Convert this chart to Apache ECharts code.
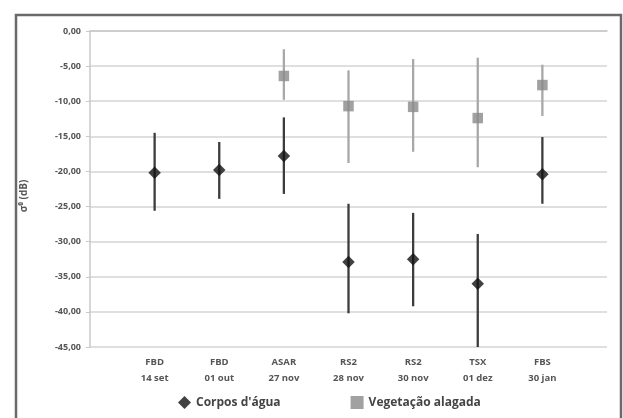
<!DOCTYPE html>
<html>
<head>
<meta charset="utf-8">
<script src="https://cdn.jsdelivr.net/npm/echarts@6/dist/echarts.min.js"></script>
<style>
  html, body { margin: 0; padding: 0; background: #fff; }
  #chart { width: 623px; height: 418px; }
</style>
</head>
<body>
<div id="chart"></div>
<script>
// categorias (vazias nas pontas para o espaçamento do Excel)
var categories = [' ', 'FBD\n14 set', 'FBD\n01 out', 'ASAR\n27 nov', 'RS2\n28 nov', 'RS2\n30 nov', 'TSX\n01 dez', 'FBS\n30 jan', '  '];

// Corpos d'água: média, mínimo, máximo
var aguaMean = [null, -20.2, -19.8, -17.8, -32.9, -32.5, -36.0, -20.4, null];
var aguaLow  = [null, -25.6, -23.9, -23.2, -40.2, -39.2, -45.0, -24.6, null];
var aguaHigh = [null, -14.5, -15.8, -12.3, -24.6, -25.9, -28.9, -15.1, null];

// Vegetação alagada
var vegMean = [null, null, null, -6.4, -10.7, -10.8, -12.4, -7.7, null];
var vegLow  = [null, null, null, -9.8, -18.8, -17.2, -19.4, -12.1, null];
var vegHigh = [null, null, null, -2.6, -5.6, -4.0, -3.8, -4.8, null];

var chart = echarts.init(document.getElementById('chart'));

function barData(low, high) {
    var out = [];
    for (var i = 0; i < low.length; i++) {
        if (low[i] != null) out.push([i, low[i], high[i]]);
    }
    return out;
}
function pointData(mean) {
    var out = [];
    for (var i = 0; i < mean.length; i++) {
        if (mean[i] != null) out.push([i, mean[i]]);
    }
    return out;
}
function errorBar(color) {
    return function (params, api) {
        var p1 = api.coord([api.value(0), api.value(1)]);
        var p2 = api.coord([api.value(0), api.value(2)]);
        return {
            type: 'line',
            shape: { x1: p1[0], y1: p1[1], x2: p2[0], y2: p2[1] },
            style: { stroke: color, lineWidth: 2.3 }
        };
    };
}

var labelFont = 'Open Sans';

var option = {
    animation: false,
    backgroundColor: '#fff',
    graphic: [{
        type: 'rect',
        shape: { x: 16, y: 15, width: 605, height: 430 },
        style: { fill: 'none', stroke: '#6a6a6a', lineWidth: 2.5 },
        silent: true
    }, {
        type: 'text',
        x: 24, y: 196,
        rotation: Math.PI / 2,
        style: {
            text: 'σ⁰ (dB)', fill: '#555', font: 'bold 10px "Open Sans"',
            align: 'center', verticalAlign: 'middle'
        }
    }],
    grid: { left: 90, right: 16, top: 31, bottom: 71 },
    legend: {
        bottom: 4,
        left: 173,
        itemGap: 70,
        itemWidth: 13,
        itemHeight: 13,
        textStyle: { fontFamily: labelFont, fontSize: 12, color: '#444', fontWeight: 'bold' },
        data: [
            { name: "Corpos d'água", icon: 'diamond' },
            { name: 'Vegetação alagada', icon: 'rect', itemStyle: { color: '#8a8a8a' } }
        ]
    },
    xAxis: {
        type: 'category',
        data: categories,
        boundaryGap: false,
        axisLine: { lineStyle: { color: '#c8c8c8', width: 1.5 } },
        axisTick: { show: false },
        axisLabel: {
            interval: 0, color: '#555', fontFamily: labelFont, fontSize: 9.5,
            fontWeight: 'bold', lineHeight: 16, margin: 7
        },
        splitLine: { show: false }
    },
    yAxis: {
        type: 'value',
        min: -45, max: 0, interval: 5,
        axisLine: { show: true, lineStyle: { color: '#c8c8c8', width: 1.5 } },
        axisTick: { show: true, length: 4, lineStyle: { color: '#c8c8c8' } },
        axisLabel: {
            color: '#555', fontFamily: labelFont, fontSize: 9, fontWeight: 'bold', margin: 9,
            formatter: function (v) { return v.toFixed(2).replace('.', ','); }
        },
        splitLine: { lineStyle: { color: '#d4d4d4', width: 1.5 } }
    },
    series: [
        {
            name: 'errAgua', type: 'custom', renderItem: errorBar('#3c3c3c'),
            data: barData(aguaLow, aguaHigh), encode: { x: 0, y: [1, 2] }, z: 2, silent: true
        },
        {
            name: 'errVeg', type: 'custom', renderItem: errorBar('#a8a8a8'),
            data: barData(vegLow, vegHigh), encode: { x: 0, y: [1, 2] }, z: 2, silent: true
        },
        {
            name: "Corpos d'água", type: 'scatter', symbol: 'diamond', symbolSize: 12.5,
            itemStyle: { color: '#111' }, data: pointData(aguaMean), z: 5
        },
        {
            name: 'Vegetação alagada', type: 'scatter', symbol: 'rect', symbolSize: 10.5,
            itemStyle: { color: '#8a8a8a' }, data: pointData(vegMean), z: 5
        }
    ]
};

chart.setOption(option);
</script>
</body>
</html>
